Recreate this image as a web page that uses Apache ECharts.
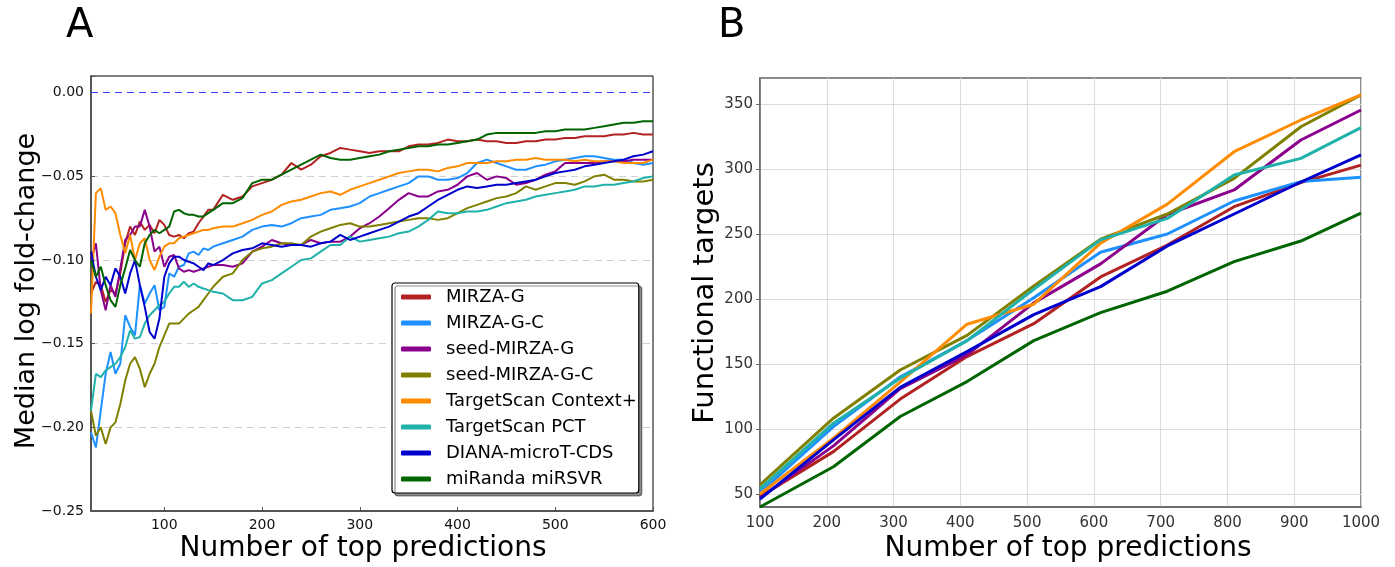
<!DOCTYPE html>
<html>
<head>
<meta charset="utf-8">
<script src="https://cdn.jsdelivr.net/npm/echarts/dist/echarts.min.js"></script>
<style>
  html, body { margin: 0; padding: 0; background: #fff; }
  #chart { width: 1395px; height: 567px; }
</style>
</head>
<body>
<div id="chart"></div>
<script>
// panel A: median log fold-change vs number of top predictions
const xA = [25,30,35,40,45,50,55,60,65,70,75,80,85,90,95,100,105,110,115,120,125,130,135,140,145,150,
  160,170,180,190,200,210,220,230,240,250,260,270,280,290,300,310,320,330,340,350,360,370,380,390,400,
  410,420,430,440,450,460,470,480,490,500,510,520,530,540,550,560,570,580,590,600]

const mirzaG_A = [-0.12,-0.113,-0.115,-0.125,-0.118,-0.12,-0.108,-0.09,-0.08,-0.085,-0.077,-0.082,-0.079,-0.084,-0.076,-0.079,-0.085,-0.086,-0.085,-0.087,-0.084,-0.083,-0.078,-0.074,-0.07,-0.07,
  -0.061,-0.064,-0.062,-0.056,-0.054,-0.052,-0.049,-0.042,-0.046,-0.043,-0.038,-0.036,-0.033,-0.034,-0.035,-0.036,-0.035,-0.035,-0.035,-0.032,-0.031,-0.031,-0.030,-0.028,-0.029,
  -0.029,-0.028,-0.029,-0.029,-0.030,-0.030,-0.029,-0.029,-0.028,-0.028,-0.027,-0.027,-0.026,-0.026,-0.026,-0.025,-0.025,-0.024,-0.025,-0.025]
const mirzaGC_A = [-0.203,-0.212,-0.19,-0.168,-0.155,-0.168,-0.162,-0.133,-0.14,-0.145,-0.115,-0.126,-0.12,-0.115,-0.13,-0.128,-0.108,-0.11,-0.104,-0.103,-0.096,-0.095,-0.097,-0.093,-0.094,-0.092,
  -0.090,-0.088,-0.086,-0.082,-0.080,-0.079,-0.080,-0.078,-0.075,-0.074,-0.073,-0.070,-0.069,-0.068,-0.066,-0.062,-0.060,-0.058,-0.056,-0.054,-0.050,-0.050,-0.052,-0.052,-0.051,
  -0.048,-0.042,-0.040,-0.042,-0.044,-0.046,-0.046,-0.044,-0.043,-0.041,-0.040,-0.039,-0.038,-0.038,-0.039,-0.040,-0.040,-0.042,-0.043,-0.042]
const seedG_A = [-0.10,-0.09,-0.118,-0.13,-0.115,-0.122,-0.105,-0.088,-0.085,-0.08,-0.08,-0.07,-0.08,-0.095,-0.092,-0.104,-0.098,-0.097,-0.105,-0.107,-0.106,-0.107,-0.106,-0.105,-0.104,-0.103,
  -0.103,-0.104,-0.102,-0.095,-0.092,-0.088,-0.090,-0.091,-0.091,-0.088,-0.090,-0.089,-0.089,-0.086,-0.081,-0.078,-0.074,-0.069,-0.064,-0.060,-0.062,-0.062,-0.059,-0.058,-0.055,
  -0.050,-0.048,-0.052,-0.050,-0.051,-0.055,-0.054,-0.052,-0.049,-0.047,-0.042,-0.042,-0.042,-0.042,-0.041,-0.041,-0.041,-0.040,-0.040,-0.040]
const seedGC_A = [-0.19,-0.205,-0.20,-0.21,-0.20,-0.197,-0.186,-0.172,-0.162,-0.158,-0.165,-0.176,-0.168,-0.162,-0.152,-0.145,-0.138,-0.138,-0.138,-0.135,-0.132,-0.13,-0.128,-0.124,-0.12,-0.116,
  -0.110,-0.108,-0.100,-0.095,-0.093,-0.092,-0.090,-0.090,-0.091,-0.086,-0.083,-0.081,-0.079,-0.078,-0.080,-0.080,-0.079,-0.078,-0.077,-0.076,-0.075,-0.075,-0.076,-0.075,-0.072,
  -0.069,-0.067,-0.065,-0.063,-0.062,-0.060,-0.056,-0.058,-0.056,-0.054,-0.054,-0.055,-0.053,-0.050,-0.049,-0.052,-0.052,-0.053,-0.053,-0.052]
const tsContext_A = [-0.132,-0.06,-0.057,-0.07,-0.068,-0.072,-0.085,-0.096,-0.085,-0.10,-0.09,-0.087,-0.10,-0.106,-0.098,-0.092,-0.09,-0.09,-0.087,-0.086,-0.085,-0.084,-0.083,-0.082,-0.082,-0.081,
  -0.080,-0.080,-0.078,-0.076,-0.073,-0.071,-0.067,-0.065,-0.064,-0.062,-0.060,-0.059,-0.061,-0.058,-0.056,-0.054,-0.052,-0.050,-0.048,-0.047,-0.046,-0.046,-0.047,-0.045,-0.044,
  -0.042,-0.042,-0.042,-0.041,-0.041,-0.040,-0.040,-0.039,-0.040,-0.040,-0.040,-0.041,-0.040,-0.041,-0.041,-0.041,-0.042,-0.042,-0.042,-0.040]
const tsPCT_A = [-0.19,-0.168,-0.17,-0.166,-0.164,-0.162,-0.158,-0.152,-0.142,-0.147,-0.146,-0.138,-0.133,-0.13,-0.127,-0.125,-0.12,-0.116,-0.116,-0.113,-0.116,-0.114,-0.116,-0.117,-0.118,-0.119,
  -0.120,-0.124,-0.124,-0.122,-0.114,-0.112,-0.108,-0.104,-0.100,-0.099,-0.095,-0.091,-0.091,-0.086,-0.089,-0.088,-0.087,-0.086,-0.084,-0.083,-0.080,-0.076,-0.071,-0.072,-0.072,
  -0.071,-0.071,-0.070,-0.068,-0.066,-0.065,-0.064,-0.062,-0.061,-0.060,-0.059,-0.058,-0.056,-0.056,-0.055,-0.055,-0.054,-0.053,-0.051,-0.050]
const diana_A = [-0.095,-0.11,-0.118,-0.11,-0.115,-0.105,-0.11,-0.12,-0.108,-0.10,-0.115,-0.128,-0.143,-0.147,-0.135,-0.11,-0.102,-0.098,-0.098,-0.10,-0.101,-0.102,-0.104,-0.106,-0.102,-0.103,
  -0.100,-0.096,-0.094,-0.093,-0.090,-0.091,-0.092,-0.091,-0.091,-0.092,-0.090,-0.089,-0.085,-0.088,-0.086,-0.084,-0.082,-0.080,-0.077,-0.074,-0.072,-0.068,-0.064,-0.061,-0.058,
  -0.056,-0.057,-0.056,-0.055,-0.055,-0.054,-0.053,-0.052,-0.050,-0.048,-0.047,-0.046,-0.044,-0.043,-0.042,-0.041,-0.040,-0.038,-0.037,-0.035]
const miranda_A = [-0.10,-0.11,-0.104,-0.115,-0.124,-0.128,-0.115,-0.105,-0.094,-0.10,-0.104,-0.09,-0.085,-0.082,-0.084,-0.082,-0.08,-0.071,-0.07,-0.072,-0.073,-0.073,-0.074,-0.074,-0.072,-0.07,
  -0.066,-0.066,-0.063,-0.054,-0.052,-0.052,-0.049,-0.046,-0.043,-0.040,-0.037,-0.039,-0.040,-0.040,-0.039,-0.038,-0.037,-0.035,-0.034,-0.033,-0.032,-0.032,-0.031,-0.031,-0.030,
  -0.029,-0.028,-0.025,-0.024,-0.024,-0.024,-0.024,-0.024,-0.023,-0.023,-0.022,-0.022,-0.022,-0.021,-0.020,-0.019,-0.018,-0.018,-0.017,-0.017]

// panel B: functional targets
const xB = [100,210,310,410,510,610,710,810,910,1000]
const mirzaG_B = [48,82.6,123,155.7,181,217,241.5,271,289.5,303]
const mirzaGC_B = [51,101.8,140,168,201,236,250,275.4,290.3,293.6]
const seedG_B = [47,87,131,157,197,227,265,283.9,322.3,345.4]
const seedGC_B = [57,108.3,145.4,172,210,246,265.4,292.8,332.5,357]
const tsContext_B = [50,93,136,180.6,196,243,273,313.3,337.7,357]
const tsPCT_B = [54,104.5,139,168,207.5,245.5,262,295.4,308.2,331.8]
const diana_B = [46,91.6,132,159.5,188,209.5,240.8,265.4,290,310.8]
const miranda_B = [40,71,109.6,136.5,168,189.5,206,228.7,244.6,266]

const ticksA_x = [100,200,300,400,500,600]
const ticksB_y = [50,100,150,200,250,300,350]

const names = ['MIRZA-G','MIRZA-G-C','seed-MIRZA-G','seed-MIRZA-G-C','TargetScan Context+','TargetScan PCT','DIANA-microT-CDS','miRanda miRSVR']
const colors = ['#b22222','#1e90ff','#8b008b','#808000','#ff8c00','#20b2aa','#0000cd','#006400']
const dataA = [mirzaG_A, mirzaGC_A, seedG_A, seedGC_A, tsContext_A, tsPCT_A, diana_A, miranda_A]
const dataB = [mirzaG_B, mirzaGC_B, seedG_B, seedGC_B, tsContext_B, tsPCT_B, diana_B, miranda_B]

const font = 'DejaVu Sans'
const chart = echarts.init(document.getElementById('chart'), null, { renderer: 'canvas' })

const series = []
dataA.forEach((ys, k) => {
  const s = {
    name: names[k],
    type: 'line',
    xAxisIndex: 0,
    yAxisIndex: 0,
    data: xA.map((x, i) => [x, ys[i]]),
    showSymbol: false,
    color: colors[k],
    lineStyle: { width: 2, color: colors[k] },
    z: 3 + k
  }
  if (k === 0) {
    // blue dashed zero line
    s.markLine = {
      silent: true,
      symbol: ['none', 'none'],
      label: { show: false },
      emphasis: { disabled: true },
      lineStyle: { color: '#3a3aff', type: [7, 5], width: 1.2 },
      data: [{ yAxis: 0 }]
    }
  }
  series.push(s)
})
dataB.forEach((ys, k) => {
  series.push({
    name: names[k],
    type: 'line',
    xAxisIndex: 1,
    yAxisIndex: 1,
    data: xB.map((x, i) => [x, ys[i]]),
    showSymbol: false,
    color: colors[k],
    lineStyle: { width: 3, color: colors[k] },
    z: 3 + k
  })
})

function fmtA(v) {
  const r = Math.round(v * 100)
  if (r % 5 !== 0 || r > 0) return ''
  return (r < 0 ? '\u2212' : '') + Math.abs(v).toFixed(2)
}

chart.setOption({
  animation: false,
  backgroundColor: '#fff',
  grid: [
    { left: 91, top: 76, width: 562, height: 435, show: true, borderColor: '#000', borderWidth: 1, backgroundColor: 'transparent' },
    { left: 760, top: 78, width: 601, height: 429, show: true, borderColor: '#666', borderWidth: 1.5, backgroundColor: 'transparent' }
  ],
  xAxis: [
    {
      gridIndex: 0, type: 'value', min: 25, max: 600,
      axisLine: { onZero: false, lineStyle: { color: '#555', width: 2 } },
      axisTick: { inside: true, length: 4, customValues: ticksA_x, lineStyle: { color: '#555' } },
      axisLabel: { customValues: ticksA_x, color: '#111', fontFamily: font, fontSize: 14, margin: 7 },
      splitLine: { show: false }
    },
    {
      gridIndex: 1, type: 'value', min: 100, max: 1000, interval: 100,
      axisLine: { onZero: false, lineStyle: { color: '#666', width: 1.5 } },
      axisTick: { show: false },
      axisLabel: { color: '#333', fontFamily: font, fontSize: 15, margin: 9, formatter: v => String(v) },
      splitLine: { show: true, lineStyle: { color: '#dcdcdc', width: 1 } }
    }
  ],
  yAxis: [
    {
      gridIndex: 0, type: 'value', min: -0.25, max: 0.01, interval: 0.05,
      axisLine: { onZero: false, lineStyle: { color: '#555', width: 2 } },
      axisTick: { inside: true, length: 4, lineStyle: { color: '#555' } },
      axisLabel: { formatter: fmtA, color: '#111', fontFamily: font, fontSize: 14, margin: 7 },
      splitLine: { show: true, showMinLine: false, showMaxLine: false, lineStyle: { color: '#d0d0d0', type: [7, 5], width: 1 } }
    },
    {
      gridIndex: 1, type: 'value', min: 40, max: 370,
      axisLine: { onZero: false, lineStyle: { color: '#666', width: 1.5 } },
      axisTick: { show: true, length: 4, customValues: ticksB_y, lineStyle: { color: '#666' } },
      axisLabel: { customValues: ticksB_y, color: '#333', fontFamily: font, fontSize: 15, margin: 7 },
      splitLine: { show: true, lineStyle: { color: '#dcdcdc', width: 1 } }
    }
  ],
  legend: {
    data: names,
    orient: 'vertical',
    left: 392, top: 283,
    icon: 'roundRect',
    itemWidth: 30, itemHeight: 5,
    itemGap: 8,
    padding: [5, 2, 5, 9],
    backgroundColor: '#fff',
    borderColor: '#000', borderWidth: 1.2, borderRadius: 3,
    shadowColor: 'rgba(0,0,0,0.45)', shadowBlur: 0, shadowOffsetX: 3, shadowOffsetY: 3,
    textStyle: { fontFamily: font, fontSize: 18, color: '#000', lineHeight: 18, padding: [0, 0, 0, 10] }
  },
  graphic: [
    { type: 'text', left: 66, top: 7, style: { text: 'A', fontFamily: font, fontSize: 40, fill: '#000' } },
    { type: 'text', left: 718, top: 7, style: { text: 'B', fontFamily: font, fontSize: 40, fill: '#000' } },
    { type: 'text', x: 363, y: 549, style: { text: 'Number of top predictions', fontFamily: font, fontSize: 28, fill: '#000', align: 'center', verticalAlign: 'middle' } },
    { type: 'text', x: 1068, y: 549, style: { text: 'Number of top predictions', fontFamily: font, fontSize: 28, fill: '#000', align: 'center', verticalAlign: 'middle' } },
    { type: 'text', x: 27, y: 291, rotation: Math.PI / 2, style: { text: 'Median log fold-change', fontFamily: font, fontSize: 27, fill: '#000', align: 'center', verticalAlign: 'middle' } },
    { type: 'text', x: 705, y: 293, rotation: Math.PI / 2, style: { text: 'Functional targets', fontFamily: font, fontSize: 29, fill: '#000', align: 'center', verticalAlign: 'middle' } }
  ],
  series: series
})
</script>
</body>
</html>
